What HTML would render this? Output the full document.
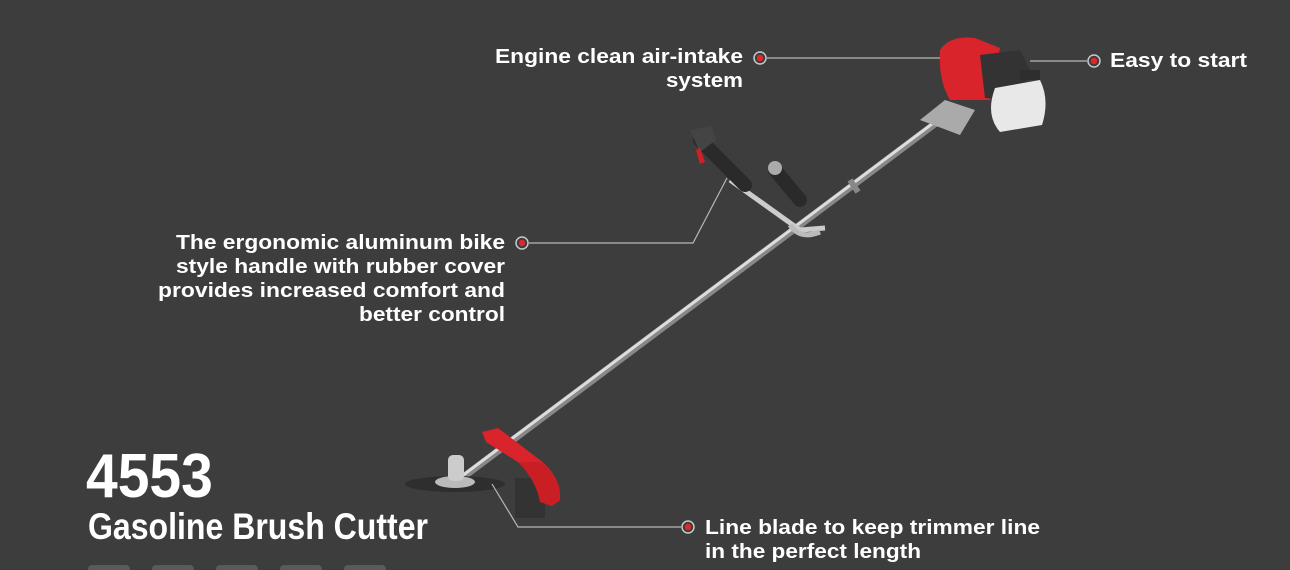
<!DOCTYPE html>
<html><head><meta charset="utf-8"><style>
html,body{margin:0;padding:0;background:#3d3d3d;}
svg{display:block}
.l{font-family:"Liberation Sans",sans-serif;font-weight:bold;font-size:20.5px;fill:#fff}
.c{font-family:"Liberation Sans Narrow","Liberation Sans",sans-serif;font-weight:bold;fill:#fff}
</style></head><body>
<svg width="1290" height="570" viewBox="0 0 1290 570">
<rect width="1290" height="570" fill="#3d3d3d"/>
<g fill="#5a5a5a"><rect x="88" y="565" width="42" height="12" rx="4"/><rect x="152" y="565" width="42" height="12" rx="4"/><rect x="216" y="565" width="42" height="12" rx="4"/><rect x="280" y="565" width="42" height="12" rx="4"/><rect x="344" y="565" width="42" height="12" rx="4"/></g>
<text class="c" x="86" y="497" font-size="62" transform="translate(86 0) scale(0.92 1) translate(-86 0)">4553</text>
<text class="c" x="88" y="539" font-size="37" textLength="340" lengthAdjust="spacingAndGlyphs">Gasoline Brush Cutter</text>
<line x1="462" y1="478" x2="940" y2="120" stroke="#888" stroke-width="7"/>
<line x1="462" y1="476" x2="940" y2="118" stroke="#ddd" stroke-width="3"/>
<ellipse cx="455" cy="484" rx="50" ry="8" fill="#2e2e2e"/>
<ellipse cx="455" cy="482" rx="20" ry="6" fill="#bbb"/>
<rect x="448" y="455" width="16" height="26" rx="5" fill="#ccc"/>
<path d="M482 432 L498 428 L540 460 Q562 478 560 500 L552 506 L540 502 Q536 480 518 462 L486 442 Z" fill="#d8242a"/>
<rect x="515" y="478" width="30" height="40" fill="#333"/>
<path d="M540 462 Q562 478 560 500 L552 506 L540 502 Q536 480 518 462Z" fill="#c81e24"/>
<path d="M730 180 L800 230 L825 228" stroke="#ccc" stroke-width="5" fill="none"/>
<path d="M790 225 Q800 240 820 232" stroke="#bbb" stroke-width="5" fill="none"/>
<line x1="700" y1="140" x2="745" y2="185" stroke="#2a2a2a" stroke-width="14" stroke-linecap="round"/>
<path d="M690 130 L712 126 L716 140 L700 152Z" fill="#444"/>
<path d="M700 148 L705 162 L700 164 L696 150Z" fill="#d02026"/>
<line x1="775" y1="170" x2="800" y2="200" stroke="#2a2a2a" stroke-width="14" stroke-linecap="round"/>
<circle cx="775" cy="168" r="7" fill="#aaa"/>
<line x1="850" y1="180" x2="858" y2="192" stroke="#888" stroke-width="6"/>
<path d="M920 120 L945 100 L975 110 L960 135 Z" fill="#aaa"/>
<path d="M940 50 Q950 35 975 38 L1000 48 L990 100 L950 100 Q938 80 940 50Z" fill="#d8242a"/>
<path d="M980 55 L1020 50 L1030 70 L1022 100 L985 98 Z" fill="#333"/>
<path d="M995 88 L1040 80 Q1050 100 1042 125 L1000 132 Q985 115 995 88Z" fill="#e8e8e8"/>
<rect x="1020" y="70" width="20" height="10" fill="#2e2e2e"/>
<g stroke="#b8b8b8" stroke-width="1.2" fill="none">
<line x1="767" y1="58" x2="940" y2="58"/>
<line x1="1030" y1="61" x2="1087" y2="61"/>
<polyline points="529,243 693,243 727,178"/>
<polyline points="681,527 518,527 492,484"/>
</g>
<g>
<circle cx="760" cy="58" r="6" fill="#3d3d3d" stroke="#c8c8c8" stroke-width="1.5"/><circle cx="760" cy="58" r="3.2" fill="#e3262c"/>
<circle cx="1094" cy="61" r="6" fill="#3d3d3d" stroke="#c8c8c8" stroke-width="1.5"/><circle cx="1094" cy="61" r="3.2" fill="#e3262c"/>
<circle cx="522" cy="243" r="6" fill="#3d3d3d" stroke="#c8c8c8" stroke-width="1.5"/><circle cx="522" cy="243" r="3.2" fill="#e3262c"/>
<circle cx="688" cy="527" r="6" fill="#3d3d3d" stroke="#c8c8c8" stroke-width="1.5"/><circle cx="688" cy="527" r="3.2" fill="#e3262c"/>
</g>
<text class="l" x="495" y="63" textLength="248" lengthAdjust="spacingAndGlyphs">Engine clean air-intake</text>
<text class="l" x="666" y="87" textLength="77" lengthAdjust="spacingAndGlyphs">system</text>
<text class="l" x="1110" y="67" textLength="137" lengthAdjust="spacingAndGlyphs">Easy to start</text>
<text class="l" x="176" y="249" textLength="329" lengthAdjust="spacingAndGlyphs">The ergonomic aluminum bike</text>
<text class="l" x="176" y="273" textLength="329" lengthAdjust="spacingAndGlyphs">style handle with rubber cover</text>
<text class="l" x="158" y="297" textLength="347" lengthAdjust="spacingAndGlyphs">provides increased comfort and</text>
<text class="l" x="359" y="321" textLength="146" lengthAdjust="spacingAndGlyphs">better control</text>
<text class="l" x="705" y="534" textLength="335" lengthAdjust="spacingAndGlyphs">Line blade to keep trimmer line</text>
<text class="l" x="705" y="558" textLength="216" lengthAdjust="spacingAndGlyphs">in the perfect length</text>
</svg>
</body></html>
